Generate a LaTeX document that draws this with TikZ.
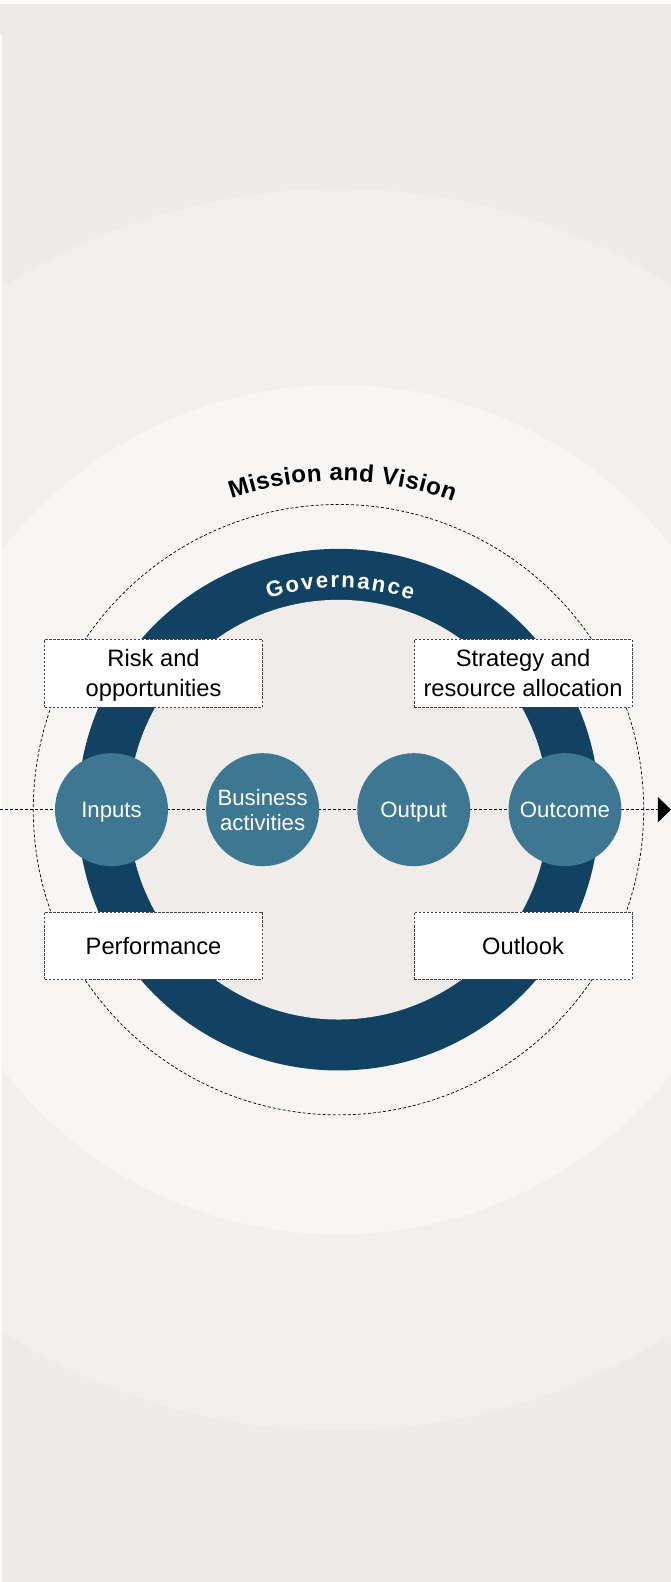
\documentclass[tikz,border=0pt]{standalone}
\usepackage{fontspec}
\setmainfont{Liberation Sans}
\usetikzlibrary{arrows.meta,decorations.text}

\definecolor{bgbeige}{HTML}{EFEBE8}
\definecolor{bandgray}{HTML}{F2F0EE}
\definecolor{innerpale}{HTML}{F7F6F5}
\definecolor{corebeige}{HTML}{EFECE9}
\definecolor{ringblue}{HTML}{124262}
\definecolor{stagefill}{HTML}{3E7791}
\definecolor{boxedge}{HTML}{444444}

\begin{document}
\begin{tikzpicture}[x=1pt,y=1pt,
  stage/.style={circle, fill=stagefill, minimum size=112pt, inner sep=0pt,
    text=white, text depth=0pt, font=\fontsize{22}{25}\selectfont, align=center},
  topic/.style={draw=boxedge, dash pattern=on 2.5pt off 1.5pt, line width=0.7pt,
    fill=white, minimum width=216pt, minimum height=67pt, inner sep=0pt,
    text depth=0pt, font=\fontsize{23.5}{30}\selectfont, align=center},
  guide/.style={dash pattern=on 3pt off 2pt, line width=0.7pt, draw=black}]

\useasboundingbox (0,0) rectangle (665,-1568);

% page background
\fill[white] (0,0) rectangle (665,-1568);
\fill[bgbeige] (0,-4) rectangle (665,-1568);
\fill[white] (0,-34.7) rectangle (2,-1568);

\coordinate (c) at (335.5,-802.5);

% soft concentric halos
\begin{scope}
  \clip (2,-4) rectangle (665,-1568);
  \fill[bandgray] (c) circle (615.2);
  \fill[innerpale] (c) circle (421);
\end{scope}

% dashed boundary and governance ring
\draw[guide] (c) circle (302.5);
\fill[ringblue] (c) circle (258.5);
\fill[corebeige] (c) circle (208);

% value-creation flow line
\coordinate (lstart) at (0,-802.5);
\coordinate (lend) at (665,-802.5);
\draw[guide, -{Triangle[length=13pt,width=25pt]}] (lstart) -- (lend);

% topic boxes
\node[topic] (risk) at (152.2,-667.3) {Risk and\\opportunities};
\node[topic] (strategy) at (518.4,-667.3) {Strategy and\\resource allocation};
\node[topic] (performance) at (152.2,-937.3) {Performance};
\node[topic] (outlook) at (518.4,-937.3) {Outlook};

% process stages
\node[stage] (inputs) at (110.5,-802.5) {Inputs};
\node[stage] (business) at (260.3,-802.5) {Business\\activities};
\node[stage] (output) at (410.1,-802.5) {Output};
\node[stage] (outcome) at (560,-802.5) {Outcome};

% curved headings
\path[decorate, decoration={text along path, text align={fit to path},
    text={|\bfseries\fontsize{24}{24}\selectfont|Mission and Vision}}]
  (c) ++(109:326) arc[start angle=109, end angle=69.6, radius=326];
\path[decorate, decoration={text along path, text align={fit to path},
    text color=white,
    text={|\bfseries\fontsize{22}{22}\selectfont|Governance}}]
  (c) ++(108.4:220) arc[start angle=108.4, end angle=70.7, radius=220];

\end{tikzpicture}
\end{document}
